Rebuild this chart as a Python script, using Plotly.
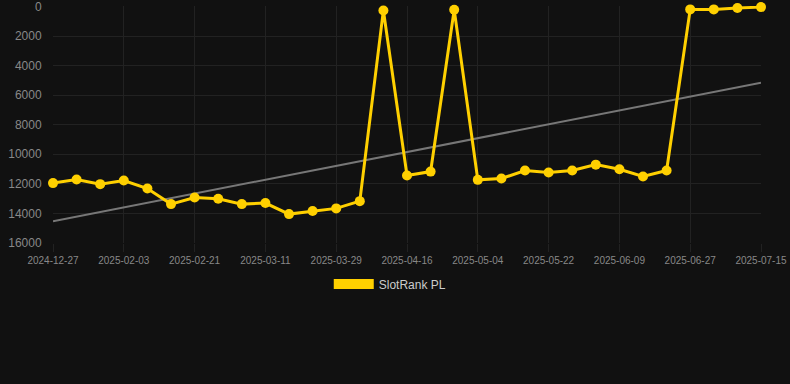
import numpy as np
import plotly.graph_objects as go

dates = ["2024-12-27", "2025-01-22", "2025-01-28", "2025-02-03", "2025-02-09", "2025-02-15",
         "2025-02-21", "2025-02-27", "2025-03-05", "2025-03-11", "2025-03-17", "2025-03-23",
         "2025-03-29", "2025-04-04", "2025-04-10", "2025-04-16", "2025-04-22", "2025-04-28",
         "2025-05-04", "2025-05-10", "2025-05-16", "2025-05-22", "2025-05-28", "2025-06-03",
         "2025-06-09", "2025-06-15", "2025-06-21", "2025-06-27", "2025-07-03", "2025-07-09",
         "2025-07-15"]
rank_pl = [11950, 11700, 12020, 11775, 12315, 13370, 12920, 13010, 13370, 13300,
           14045, 13840, 13660, 13170, 270, 11440, 11170, 225, 11730, 11640,
           11100, 11235, 11100, 10700, 11010, 11505, 11100, 200, 200, 110, 45]
tick_labels = dates[::3]
y_ticks = [0, 2000, 4000, 6000, 8000, 10000, 12000, 14000, 16000]

GOLD = "#ffd000"
idx = np.arange(len(rank_pl))
slope, intercept = np.polyfit(idx, rank_pl, 1)
trend = [intercept + slope * idx[0], intercept + slope * idx[-1]]

fig = go.Figure()
fig.add_trace(go.Scatter(x=[dates[0], dates[-1]], y=trend, mode="lines",
                         line=dict(color="#777777", width=2), showlegend=False,
                         hoverinfo="skip"))
fig.add_trace(go.Scatter(x=dates, y=rank_pl, mode="lines+markers",
                         line=dict(color=GOLD, width=3),
                         marker=dict(color=GOLD, size=10),
                         cliponaxis=False, showlegend=False, name="SlotRank PL"))
fig.add_trace(go.Scatter(x=[None], y=[None], mode="lines", name="SlotRank PL",
                         line=dict(color=GOLD, width=12)))

fig.update_layout(
    width=790, height=384,
    margin=dict(l=53, r=29, t=6, b=141),
    paper_bgcolor="#111111", plot_bgcolor="#111111",
    font=dict(family="Liberation Sans, Arial, sans-serif", color="#888888"),
    showlegend=True,
    legend=dict(orientation="h", xref="container", yref="container",
                x=0.494, xanchor="center", y=1 - 284 / 384, yanchor="middle",
                font=dict(size=12, color="#cccccc"), itemwidth=40,
                bgcolor="rgba(0,0,0,0)"),
    xaxis=dict(type="category", categoryorder="array", categoryarray=dates,
               range=[0, len(dates) - 1], tickvals=tick_labels, ticktext=tick_labels,
               tickfont=dict(size=10, color="#888888"), showgrid=True,
               gridcolor="#222222", gridwidth=1, ticks="outside", ticklen=8,
               tickcolor="#222222", zeroline=False, showline=False,
               ticklabeloverflow="allow", automargin=False),
    yaxis=dict(range=[16000, -30], tickvals=y_ticks, ticktext=[str(v) for v in y_ticks],
               tickfont=dict(size=12, color="#888888"), showgrid=True,
               gridcolor="#222222", gridwidth=1, zeroline=False, showline=False,
               ticks="outside", ticklen=8, tickcolor="rgba(0,0,0,0)",
               ticklabeloverflow="allow", automargin=False),
)

fig.write_html("out.html", config={"displayModeBar": False},
               post_script="document.body.style.margin='0';"
                           "document.body.style.background='#111111';")
